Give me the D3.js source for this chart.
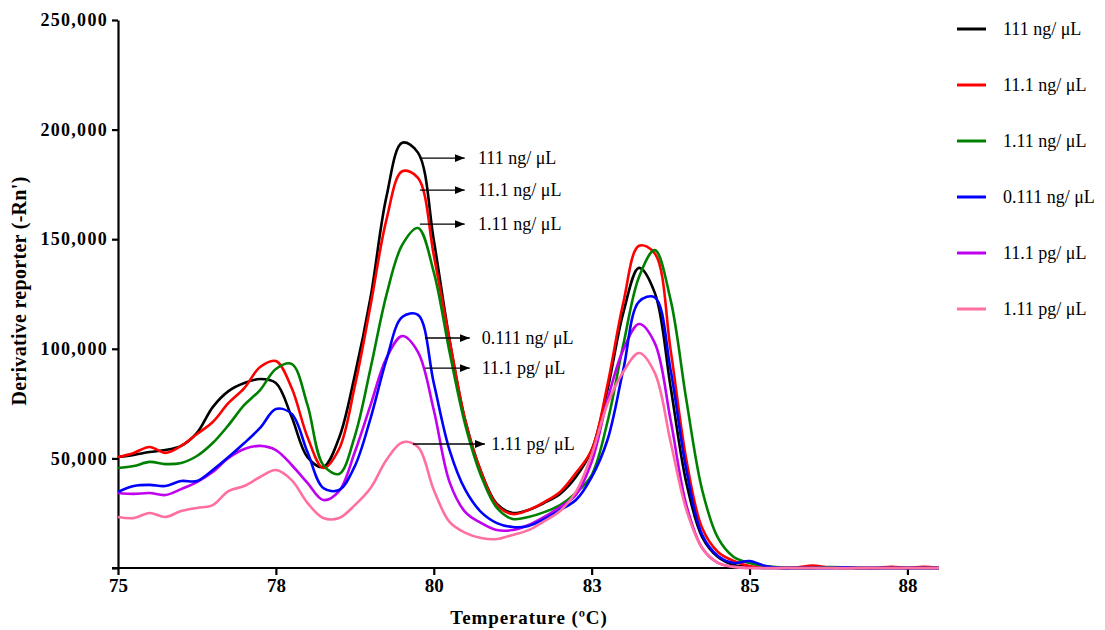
<!DOCTYPE html>
<html>
<head>
<meta charset="utf-8">
<script src="https://cdn.jsdelivr.net/npm/d3@7"></script>
<style>
  html, body { margin: 0; padding: 0; background: #ffffff; }
  svg { display: block; }
</style>
</head>
<body>
<svg id="chart" width="1105" height="630"></svg>
<script>
// ---------- DATA ----------
const temps = d3.range(0, 53).map(i => 75 + i * 0.25);

const seriesNames = ["111 ng/ μL", "11.1 ng/ μL", "1.11 ng/ μL", "0.111 ng/ μL", "11.1 pg/ μL", "1.11 pg/ μL"];
const seriesColors = ["#000000", "#ff0000", "#008000", "#0000ff", "#c000f0", "#ff6fa0"];

const v111ng = [50600, 51600, 52900, 53800, 55700, 61600, 73400, 80700, 84400, 86200, 84400, 68900, 50600, 46100,
  59300, 88000, 123600, 169300, 194000, 189500, 149600, 104000, 67100, 43800, 29200, 25100, 26500, 29700, 33800, 41500,
  53800, 81200, 116300, 136900, 125500, 82600, 38800, 14100, 5000, 1400, 500, 0, 0, 0, 0, 0, 0, 0, 0, 0, 0, 0, 0];
const v11_1ng = [50600, 52500, 55200, 52500, 55700, 61100, 66600, 75300, 82100, 91700, 94400, 82100, 59800, 45600,
  54300, 83000, 120000, 158800, 181000, 178000, 142800, 104000, 67100, 43800, 28700, 24600, 26500, 30100, 34700, 43300,
  53800, 83500, 120900, 147000, 143500, 99500, 49300, 18200, 7300, 3200, 900, 200, 0, 200, 1100, 200, 0, 0, 0, 600, 0, 600, 0];
const v1_11ng = [45600, 46500, 48400, 47400, 47900, 51100, 57000, 65200, 74400, 81200, 90800, 93100, 74400, 47000,
  42900, 60200, 91200, 124500, 147400, 155100, 135000, 98500, 65200, 42000, 27400, 22400, 23300, 25500, 28700, 34200,
  42400, 66600, 101700, 132800, 145000, 122300, 76600, 35600, 13700, 5000, 2300, 900, 200, 0, 0, 400, 300, 0, 0, 0, 0, 0, 0];
const v0_111ng = [34700, 37400, 37900, 37400, 39700, 39700, 44700, 50600, 57000, 63900, 72500, 70300, 52900, 36500,
  35600, 46500, 68400, 94900, 114500, 115500, 84400, 53800, 35600, 25500, 20500, 18700, 19200, 22400, 26500, 31000,
  41500, 58400, 90300, 121500, 123500, 90300, 44700, 15100, 5500, 2300, 3200, 900, 0, 0, 0, 0, 300, 0, 0, 0, 0, 0, 0];
const v11_1pg = [34200, 33800, 34200, 33300, 36000, 39200, 43800, 50200, 54300, 55700, 53800, 47000, 38800, 31000,
  35100, 52900, 74400, 95800, 105800, 98500, 72100, 39200, 25500, 20500, 17300, 17300, 19600, 23300, 27800, 33300,
  48400, 76600, 99500, 111300, 102600, 67500, 28700, 9100, 2300, 500, 0, 0, 0, 0, 0, 0, 0, 0, 0, 0, 0, 0, 0];
const v1_11pg = [23300, 22800, 25100, 23300, 26000, 27400, 28700, 35100, 37400, 41500, 44700, 40100, 29700, 22800,
  22800, 28700, 36500, 49300, 57300, 55200, 35600, 21000, 16000, 13700, 13200, 15100, 17300, 21400, 26000, 34700,
  51600, 74800, 89400, 98100, 89000, 57500, 26500, 9100, 2300, 500, 0, 0, 0, 0, 0, 0, 0, 0, 0, 0, 0, 0, 0];

const seriesValues = [v111ng, v11_1ng, v1_11ng, v0_111ng, v11_1pg, v1_11pg];
const drawOrder = [0, 1, 2, 4, 3, 5];

const xTickValues = [75, 77.5, 80, 82.5, 85, 87.5];
const xTickLabels = ["75", "78", "80", "83", "85", "88"];
const yTickValues = [0, 50000, 100000, 150000, 200000, 250000];
const yTickLabels = ["", "50,000", "100,000", "150,000", "200,000", "250,000"];

// annotations (arrow from annX0 to annX1 at level annY, label at annTextX)
const annLabels = ["111 ng/ μL", "11.1 ng/ μL", "1.11 ng/ μL", "0.111 ng/ μL", "11.1 pg/ μL", "1.11 pg/ μL"];
const annY = [187000, 172400, 156900, 104900, 91200, 56600];
const annX0 = [79.78, 79.78, 79.78, 79.86, 79.86, 79.67];
const annX1 = [80.49, 80.49, 80.49, 80.57, 80.57, 80.81];
const annTextX = [80.70, 80.70, 80.70, 80.76, 80.76, 80.91];

// ---------- LAYOUT ----------
const svg = d3.select("#chart");
const x = d3.scaleLinear().domain([75, 88]).range([118, 939]);
const y = d3.scaleLinear().domain([0, 250000]).range([568, 20]);
const serif = "'Liberation Serif', 'Times New Roman', serif";

// defs: arrowhead
svg.append("defs").append("marker")
  .attr("id", "arrowhead")
  .attr("viewBox", "0 0 10 8")
  .attr("refX", 10).attr("refY", 4)
  .attr("markerWidth", 10).attr("markerHeight", 8)
  .attr("markerUnits", "userSpaceOnUse")
  .attr("orient", "auto")
  .append("path").attr("d", "M0,0 L10,4 L0,8 Z").attr("fill", "#000");

// axes
const xAxis = d3.axisBottom(x)
  .tickValues(xTickValues)
  .tickFormat((d, i) => xTickLabels[i])
  .tickSize(7).tickSizeOuter(0).tickPadding(4);
const gx = svg.append("g").attr("transform", `translate(0,${y(0)})`).call(xAxis);

const yAxis = d3.axisLeft(y)
  .tickValues(yTickValues)
  .tickFormat((d, i) => yTickLabels[i])
  .tickSize(6).tickSizeOuter(0).tickPadding(4);
const gy = svg.append("g").attr("transform", `translate(${x(75)},0)`).call(yAxis);

[gx, gy].forEach(g => {
  g.select(".domain").attr("stroke", "#000").attr("stroke-width", 2.2);
  g.selectAll(".tick line").attr("stroke", "#000").attr("stroke-width", 2.2);
  g.selectAll(".tick text")
    .attr("fill", "#000")
    .style("font-family", serif)
    .style("font-weight", "bold")
    .style("font-size", "18px");
});
gx.selectAll(".tick text").style("font-size", "19px");
gy.selectAll(".tick text").style("letter-spacing", "1.3px");
// extend x axis line slightly left of the y axis
gx.select(".domain").attr("d", `M${x(75) - 6},0H${x(88)}`);

// axis titles
svg.append("text")
  .attr("x", 529).attr("y", 624)
  .attr("text-anchor", "middle")
  .style("font-family", serif).style("font-weight", "bold").style("font-size", "19px")
  .style("letter-spacing", "0.9px")
  .text("Temperature (ºC)");

svg.append("text")
  .attr("transform", `translate(26,291) rotate(-90)`)
  .attr("text-anchor", "middle")
  .style("font-family", serif).style("font-weight", "bold").style("font-size", "20px")
  .style("letter-spacing", "0.3px")
  .text("Derivative reporter (-Rn')");

// curves
const line = d3.line()
  .x(d => x(d[0]))
  .y(d => y(d[1]))
  .curve(d3.curveCatmullRom.alpha(0.5));

drawOrder.forEach(si => {
  const pts = temps.map((t, i) => [t, seriesValues[si][i]]);
  svg.append("path")
    .attr("d", line(pts))
    .attr("fill", "none")
    .attr("stroke", seriesColors[si])
    .attr("stroke-width", 2.6)
    .attr("stroke-linejoin", "round");
});

// annotations
annLabels.forEach((lab, i) => {
  svg.append("line")
    .attr("x1", x(annX0[i])).attr("x2", x(annX1[i]))
    .attr("y1", y(annY[i])).attr("y2", y(annY[i]))
    .attr("stroke", "#000").attr("stroke-width", 1.4)
    .attr("marker-end", "url(#arrowhead)");
  svg.append("text")
    .attr("x", x(annTextX[i])).attr("y", y(annY[i]) + 6)
    .style("font-family", serif).style("font-size", "18px")
    .text(lab);
});

// legend
const legend = svg.append("g").attr("transform", "translate(957,29)");
seriesNames.forEach((name, i) => {
  const g = legend.append("g").attr("transform", `translate(0,${i * 56})`);
  g.append("line").attr("x1", 0).attr("x2", 29).attr("y1", 0).attr("y2", 0)
    .attr("stroke", seriesColors[i]).attr("stroke-width", 3);
  g.append("text").attr("x", 46).attr("y", 6)
    .style("font-family", serif).style("font-size", "18px")
    .text(name);
});
</script>
</body>
</html>
